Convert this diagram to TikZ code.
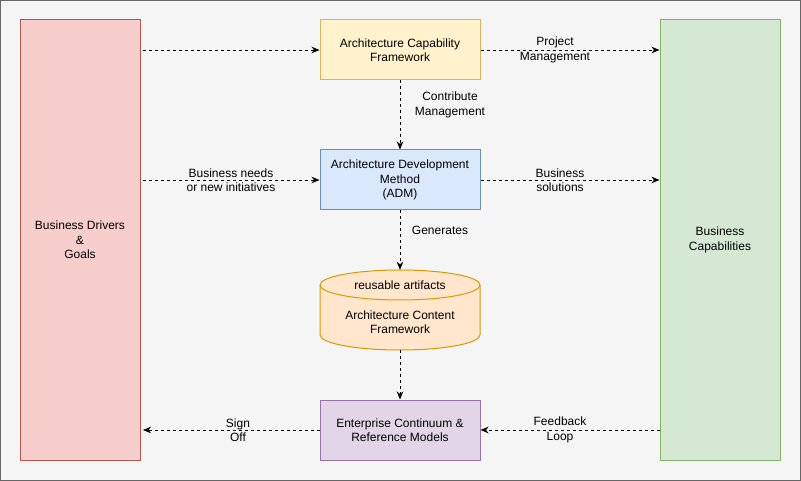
\documentclass[tikz,border=0pt]{standalone}
\usepackage{fontspec}
\setmainfont{Liberation Sans}
\usetikzlibrary{arrows.meta}
\definecolor{pagebg}{HTML}{F5F5F5}
\definecolor{pageline}{HTML}{666666}
\definecolor{redfill}{HTML}{F8CECC}\definecolor{redline}{HTML}{B85450}
\definecolor{greenfill}{HTML}{D5E8D4}\definecolor{greenline}{HTML}{82B366}
\definecolor{yelfill}{HTML}{FFF2CC}\definecolor{yelline}{HTML}{D6B656}
\definecolor{bluefill}{HTML}{DAE8FC}\definecolor{blueline}{HTML}{6C8EBF}
\definecolor{orfill}{HTML}{FFE6CC}\definecolor{orline}{HTML}{D79B00}
\definecolor{purfill}{HTML}{E1D5E7}\definecolor{purline}{HTML}{9673A6}
\begin{document}
\begin{tikzpicture}[x=1pt,y=-1pt,
  every node/.style={font=\fontsize{12}{14.5}\selectfont, align=center},
  box/.style={draw, line width=1pt, inner sep=0pt, minimum width=160pt, minimum height=60pt},
  tallbox/.style={draw, line width=1pt, inner sep=0pt, minimum width=120pt, minimum height=440pt},
  conn/.style={draw=black, line width=0.8pt, dash pattern=on 3pt off 3pt, -{Stealth[length=8pt,width=6.5pt,inset=2.5pt]}},
  lbl/.style={inner sep=0pt}
]
\useasboundingbox (0,0) rectangle (801,481);
\draw[fill=pagebg, draw=pageline, line width=1.2pt] (0.6,0.6) rectangle (800.4,480.4);

\node[tallbox, fill=redfill, draw=redline] (drivers) at (80,240) {Business Drivers\\\&\\Goals};
\node[tallbox, fill=greenfill, draw=greenline] (caps) at (720,240) {Business\\Capabilities};

\node[box, fill=yelfill, draw=yelline] (acf) at (400,50) {Architecture Capability\\Framework};
\node[box, fill=bluefill, draw=blueline] (adm) at (400,180) {Architecture Development\\Method\\(ADM)};
\node[box, fill=purfill, draw=purline] (ec) at (400,430) {Enterprise Continuum \&\\Reference Models};

% cylinder
\draw[fill=orfill, draw=orline, line width=1pt]
  (320,285) -- (320,335) arc[start angle=180, end angle=360, x radius=80pt, y radius=15pt]
  -- (480,285) arc[start angle=0, end angle=180, x radius=80pt, y radius=15pt] -- cycle;
\draw[draw=orline, line width=1pt]
  (320,285) arc[start angle=180, end angle=360, x radius=80pt, y radius=15pt];
\node[inner sep=0pt, minimum width=160pt, minimum height=80pt] (cf) at (400,310) {};
\node[lbl] (cftop) at (400,285) {reusable artifacts};
\node[lbl] (cftext) at (400,322) {Architecture Content\\Framework};

% connectors
\coordinate (d1) at (143,50);
\coordinate (d2) at (143,180);
\coordinate (d3) at (143,430);
\draw[conn] (d1) -- (acf.west);
\draw[conn] (d2) -- (adm.west);
\draw[conn] (acf.east) -- (acf.east -| caps.west);
\draw[conn] (adm.east) -- (adm.east -| caps.west);
\draw[conn] (acf.south) -- (adm.north);
\draw[conn] (adm.south) -- (cf.north);
\draw[conn] (cf.south) -- (ec.north);
\draw[conn] (ec.east -| caps.west) -- (ec.east);
\draw[conn] (ec.west) -- (d3);

% labels
\node[lbl] (l1) at (231,180) {Business needs\\or new initiatives};
\node[lbl] (l2) at (555,50) {Project\\Management};
\node[lbl] (l3) at (560,180) {Business\\solutions};
\node[lbl] (l4) at (450,105) {Contribute\\Management};
\node[lbl] (l5) at (440,230) {Generates};
\node[lbl] (l6) at (560,430) {Feedback\\Loop};
\node[lbl] (l7) at (238,430) {Sign\\Off};
\end{tikzpicture}
\end{document}
